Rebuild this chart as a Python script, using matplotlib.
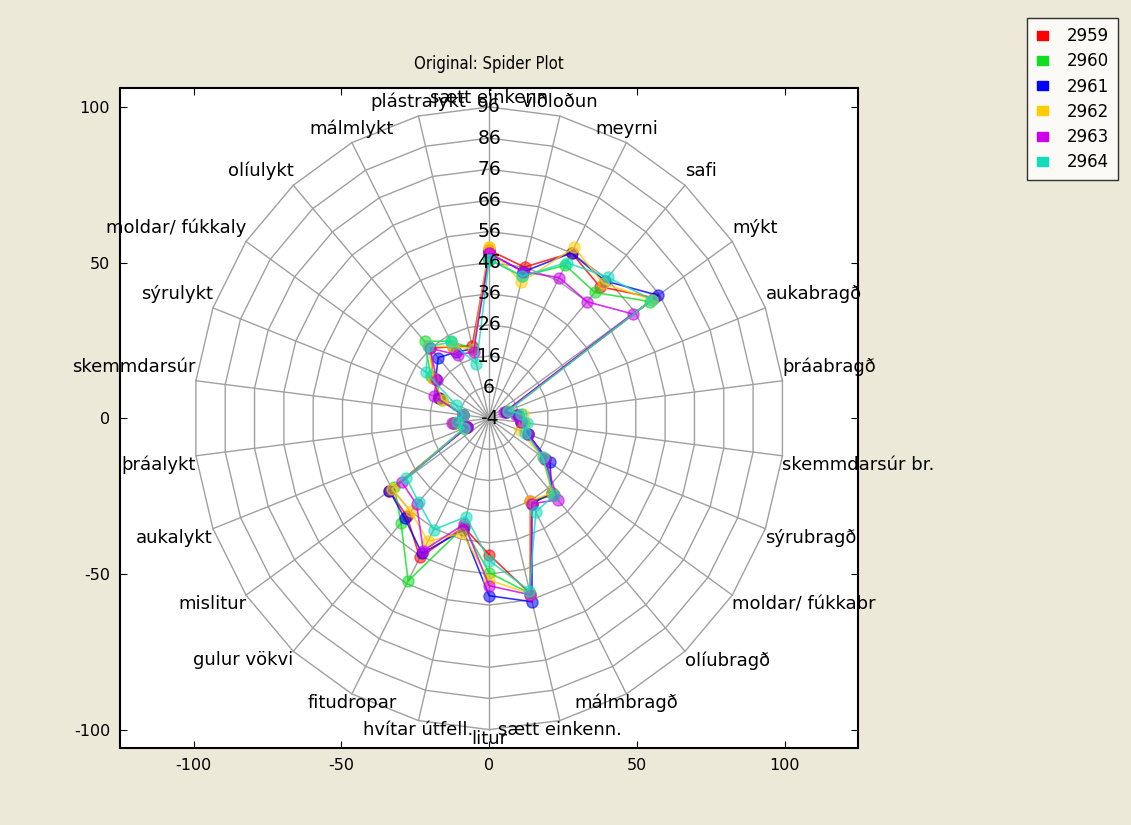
import numpy as np
import matplotlib
matplotlib.use('Agg')
import matplotlib.pyplot as plt
from matplotlib.patches import Patch

plt.rcParams['axes.unicode_minus'] = False

# Eiginleikar (spokes), réttsælis frá toppi
labels = ['sætt einkenn', 'viðloðun', 'meyrni', 'safi', 'mýkt', 'aukabragð',
          'þráabragð', 'skemmdarsúr br.', 'sýrubragð', 'moldar/ fúkkabr',
          'olíubragð', 'málmbragð', 'sætt einkenn.', 'litur', 'hvítar útfell.',
          'fitudropar', 'gulur vökvi', 'mislitur', 'aukalykt', 'þráalykt',
          'skemmdarsúr', 'sýrulykt', 'moldar/ fúkkaly', 'olíulykt', 'málmlykt',
          'plástralykt']

series_names = ['2959', '2960', '2961', '2962', '2963', '2964']
colors = ['#ff0000', '#11dd22', '#0000ff', '#ffcc00', '#cc00ee', '#11ddbb']

s2959 = [50, 46, 56, 52.5, 64, 2, 6, 7, 10, 19, 29, 26, 54, 39.8, 32, 46.5, 38, 37, 4, 8, 5, 14, 19, 26, 22, 20]
s2960 = [47, 43, 51.5, 50, 62, 2, 6, 8, 10, 19, 28, 27, 54, 45.6, 32, 55, 41, 35, 5, 8, 5, 13, 20, 29, 24, 19]
s2961 = [49, 44.5, 56, 55, 65.5, 2, 6, 7, 10, 21, 28, 27, 56.7, 53, 33, 45, 39, 37, 4, 8, 5, 14, 18, 22, 20, 19]
s2962 = [51, 41, 58, 54, 63, 3, 7.5, 8, 7, 18, 28, 26, 54, 48, 34, 40.6, 36, 36, 5, 8, 5, 13, 19, 27, 22, 19]
s2963 = [49, 44.5, 47, 46, 55, 1.5, 5, 7, 10, 19, 31, 27, 54.4, 49.8, 31, 44, 33, 32, 4, 8.6, 5, 16, 17.6, 26, 19, 18]
s2964 = [47, 43, 52.5, 56.5, 63, 3, 7, 9, 9, 18, 29, 30, 53, 41.7, 28.6, 36.4, 32, 30, 5, 7, 5, 8, 22, 27, 23.5, 14]
series = [s2959, s2960, s2961, s2962, s2963, s2964]

ring_values = list(range(-4, 97, 10))

rmin = ring_values[0]
n = len(labels)
ang = np.arange(n) * 2 * np.pi / n
ux, uy = np.sin(ang), np.cos(ang)
ux_c, uy_c = np.append(ux, ux[0]), np.append(uy, uy[0])

fig = plt.figure(figsize=(11.31, 8.25), dpi=100, facecolor='#ece9d8')
ax = fig.add_axes([0.106, 0.093, 0.653, 0.800])

# grid: marghyrningar og geislar
for rv in ring_values[1:]:
    r = rv - rmin
    ax.plot(ux_c * r, uy_c * r, color='#a0a0a0', lw=1.0, zorder=1)
rout = ring_values[-1] - rmin
for k in range(n):
    ax.plot([0, ux[k] * rout], [0, uy[k] * rout], color='#a0a0a0', lw=1.0, zorder=1)

# gögnin
for name, vals, c in zip(series_names, series, colors):
    r = np.array(vals) - rmin
    r = np.append(r, r[0])
    ax.plot(r * ux_c, r * uy_c, '-', color=c, lw=1.2, alpha=0.8, zorder=3)
    ax.plot(r * ux_c, r * uy_c, 'o', color=c, ms=8, mec=c, alpha=0.55, zorder=3)

# kvarðatölur á lóðrétta geislanum
for rv in ring_values:
    ax.text(0, rv - rmin, str(rv), ha='center', va='center', fontsize=13.5, zorder=6)

# heiti eiginleika
for k, lab in enumerate(labels):
    x, y = ux[k] * rout, uy[k] * rout
    if abs(ux[k]) < 0.55:
        ha = 'center'
    elif ux[k] > 0:
        ha = 'left'
    else:
        ha = 'right'
    if uy[k] > 0:
        va = 'bottom'
        dy = 3.5 if abs(ux[k]) > 0.1 else 0
    else:
        va = 'top'
        dy = 0
    ax.annotate(lab, (x, y), xytext=(0, dy), textcoords='offset points',
                ha=ha, va=va, fontsize=13, zorder=6, annotation_clip=False)

ax.set_xlim(-125, 125)
ax.set_ylim(-106, 106)
ax.set_xticks([-100, -50, 0, 50, 100])
ax.set_yticks([-100, -50, 0, 50, 100])
ax.tick_params(direction='in', top=True, right=True, length=5, labelsize=11.5, pad=7)
for sp in ax.spines.values():
    sp.set_linewidth(1.5)
ax.set_title('Original: Spider Plot', fontsize=12, fontstretch='condensed',
             family=['Liberation Sans Narrow', 'DejaVu Sans'], pad=14)

handles = [Patch(facecolor=c, edgecolor=c) for c in colors]
leg = fig.legend(handles, series_names, loc='upper right', bbox_to_anchor=(0.9885, 0.978),
                 borderaxespad=0, fontsize=12, frameon=True, fancybox=False,
                 handlelength=0.7, handleheight=0.45, labelspacing=0.43,
                 borderpad=0.55, handletextpad=1.1)
leg.get_frame().set_edgecolor('black')
leg.get_frame().set_linewidth(1.0)

fig.savefig('out.png', dpi=100, facecolor=fig.get_facecolor())
